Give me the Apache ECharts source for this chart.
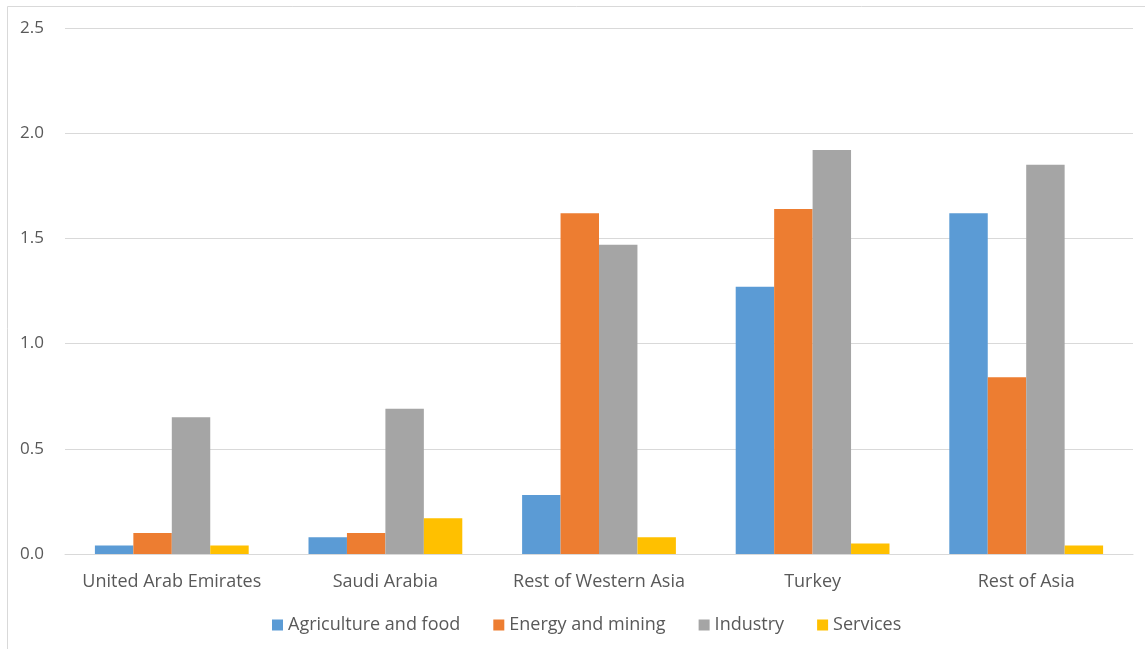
<!DOCTYPE html>
<html>
<head>
<meta charset="utf-8">
<script src="https://cdn.jsdelivr.net/npm/echarts@6/dist/echarts.min.js"></script>
<style>
  html, body { margin: 0; padding: 0; background: #fff; }
  #chart { width: 1145px; height: 649px; }
</style>
</head>
<body>
<div id="chart"></div>
<script>
// Regions on the category axis
const regions = ['United Arab Emirates', 'Saudi Arabia', 'Rest of Western Asia', 'Turkey', 'Rest of Asia'];

// Sector values per region
const agricultureFood = [0.04, 0.08, 0.28, 1.27, 1.62];
const energyMining   = [0.10, 0.10, 1.62, 1.64, 0.84];
const industry       = [0.65, 0.69, 1.47, 1.92, 1.85];
const services       = [0.04, 0.17, 0.08, 0.05, 0.04];

const seriesNames = ['Agriculture and food', 'Energy and mining', 'Industry', 'Services'];
const seriesColors = ['#5B9BD5', '#ED7D31', '#A5A5A5', '#FFC000'];
const seriesData = [agricultureFood, energyMining, industry, services];

const textColor = '#595959';
const gridColor = '#D9D9D9';
const fontFamily = '"Open Sans", Lato, sans-serif';

const chart = echarts.init(document.getElementById('chart'), null, { renderer: 'canvas' });

chart.setOption({
  animation: false,
  backgroundColor: '#fff',
  textStyle: { fontFamily: fontFamily },
  graphic: [{
    type: 'rect',
    shape: { x: 7.5, y: 6.5, width: 1150, height: 660 },
    style: { fill: 'none', stroke: gridColor, lineWidth: 1 },
    silent: true,
    z: -1
  }],
  grid: { left: 65, right: 12, top: 28, bottom: 95, containLabel: false },
  legend: {
    data: seriesNames,
    top: 611,
    left: 267,
    itemWidth: 11,
    itemHeight: 11,
    itemGap: 33,
    icon: 'rect',
    textStyle: { color: textColor, fontSize: 18, fontFamily: fontFamily }
  },
  xAxis: {
    type: 'category',
    data: regions,
    axisLine: { show: true, lineStyle: { color: gridColor, width: 1 } },
    axisTick: { show: false },
    axisLabel: { color: textColor, fontSize: 18, margin: 19, interval: 0, fontFamily: fontFamily }
  },
  yAxis: {
    type: 'value',
    min: 0,
    max: 2.5,
    interval: 0.5,
    axisLine: { show: false },
    axisTick: { show: false },
    splitLine: { lineStyle: { color: gridColor, width: 1 } },
    axisLabel: {
      color: textColor,
      fontSize: 17,
      margin: 21,
      fontFamily: fontFamily,
      formatter: v => v.toFixed(1)
    }
  },
  series: seriesNames.map((name, i) => ({
    name: name,
    type: 'bar',
    data: seriesData[i],
    barGap: '0%',
    barCategoryGap: '28%',
    itemStyle: { color: seriesColors[i] }
  }))
});
</script>
</body>
</html>
